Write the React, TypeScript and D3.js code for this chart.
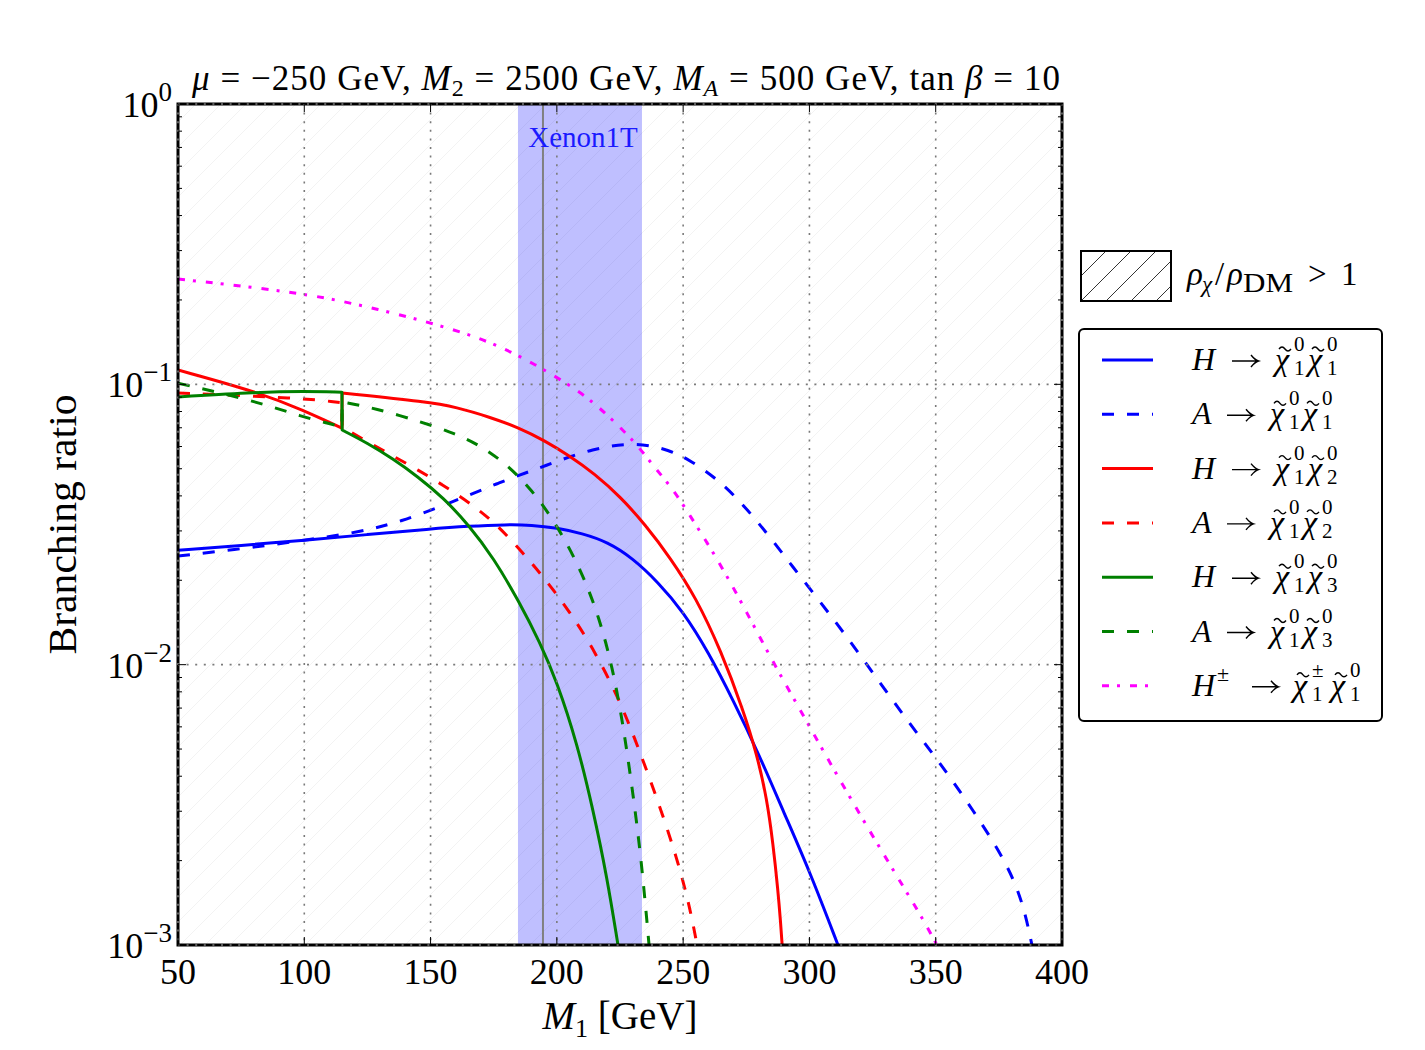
import React from 'react';
import * as d3 from 'd3';

const W = 1425;
const H = 1050;
const PL = 178, PR = 1062, PT = 104, PB = 945;

const xTicks = [50, 100, 150, 200, 250, 300, 350, 400];
const yTickExps = [0, -1, -2, -3];

// Xenon1T excluded band and central line
const xenonBand = [184.6, 233.7];
const xenonLine = 194.5;

// H -> chi1 chi1
const m1H11 = [50, 75, 100, 125, 150, 165, 180, 190, 200, 210, 220, 230, 240, 250, 260, 270, 280, 290, 300, 311.3];
const brH11 = [0.02559, 0.02661, 0.0278, 0.02911, 0.03048, 0.03119, 0.03162, 0.03148, 0.03076, 0.02938, 0.02742, 0.02399, 0.01972, 0.01549, 0.01109, 0.00741, 0.00479, 0.00295, 0.00184, 0.001];

// A -> chi1 chi1
const m1A11 = [50, 78.5, 99.9, 122.1, 137.9, 157.7, 176.7, 196.1, 214.3, 231.7, 244.8, 252.7, 265.8, 279.2, 292.3, 312.1, 325.2, 338.6, 351.7, 364.8, 378.2, 384.6, 388.1];
const brA11 = [0.0244, 0.0261, 0.0278, 0.0297, 0.0323, 0.0377, 0.0445, 0.0515, 0.0592, 0.0622, 0.0582, 0.0537, 0.0445, 0.0328, 0.023, 0.0136, 0.00933, 0.00634, 0.00446, 0.00303, 0.00196, 0.00141, 0.001];

// H -> chi1 chi2
const m1H12 = [50, 81.7, 99.5, 114.9, 115, 149, 160, 173.5, 185, 195, 205, 215, 225, 235, 245, 255, 265, 273.7, 279.2, 283.2, 285.6, 287.5, 288.6, 289.2];
const brH12 = [0.1125, 0.0938, 0.0809, 0.0698, 0.0931, 0.0865, 0.083, 0.0764, 0.07, 0.0631, 0.0556, 0.0479, 0.0398, 0.0316, 0.024, 0.0174, 0.0112, 0.00692, 0.00479, 0.00331, 0.00229, 0.00158, 0.0012, 0.001];

// A -> chi1 chi2
const m1A12 = [50, 99.5, 112.2, 114.9, 115, 125, 135, 145, 155, 165, 175, 185, 195, 205, 215, 225, 232, 240, 247.6, 252.7, 255.5];
const brA12 = [0.0931, 0.0893, 0.0865, 0.086, 0.0705, 0.0624, 0.0556, 0.0495, 0.0437, 0.038, 0.0324, 0.026, 0.0204, 0.0155, 0.0112, 0.00741, 0.00513, 0.00327, 0.00204, 0.00136, 0.001];

// H -> chi1 chi3
const m1H13 = [50, 81.7, 100, 114.9, 115, 125, 135, 145, 155, 165, 175, 185, 193.3, 200, 208, 214.3, 219.9, 224.2];
const brH13 = [0.0902, 0.0938, 0.0944, 0.0938, 0.0687, 0.0617, 0.0543, 0.0468, 0.0394, 0.0316, 0.024, 0.0168, 0.012, 0.00871, 0.00525, 0.00305, 0.00174, 0.001];

// A -> chi1 chi3
const m1A13 = [50, 79.3, 99.5, 112.2, 114.9, 115, 128, 146.6, 159.7, 170, 180, 190, 200, 210, 217, 222, 226, 230, 233.5, 236.5];
const brA13 = [0.1009, 0.0879, 0.0764, 0.0716, 0.0705, 0.0865, 0.0822, 0.0733, 0.0668, 0.0603, 0.0519, 0.0422, 0.0316, 0.0214, 0.0145, 0.00977, 0.00631, 0.00355, 0.002, 0.001];

// H+- -> chi1+- chi1
const m1Hpm = [50, 96.7, 121.3, 147.8, 168.8, 185.8, 205.2, 214.3, 223, 231.7, 238.1, 245.6, 251.9, 264.6, 275.3, 285.6, 297.5, 308.1, 320, 331.9, 343.8, 350.5];
const brHpm = [0.2375, 0.2135, 0.193, 0.168, 0.1475, 0.126, 0.0994, 0.0865, 0.0733, 0.061, 0.0513, 0.0427, 0.035, 0.023, 0.0153, 0.0102, 0.00661, 0.00447, 0.00292, 0.00193, 0.00129, 0.001];

type Series = { m1: number[]; br: number[]; color: string; dash: string | null; p: string; pm: boolean; sup1: string; sub2: string };

const series: Series[] = [
  { m1: m1H11, br: brH11, color: '#0000ff', dash: null, p: 'H', pm: false, sup1: '0', sub2: '1' },
  { m1: m1A11, br: brA11, color: '#0000ff', dash: '12,13', p: 'A', pm: false, sup1: '0', sub2: '1' },
  { m1: m1H12, br: brH12, color: '#ff0000', dash: null, p: 'H', pm: false, sup1: '0', sub2: '2' },
  { m1: m1A12, br: brA12, color: '#ff0000', dash: '12,13', p: 'A', pm: false, sup1: '0', sub2: '2' },
  { m1: m1H13, br: brH13, color: '#008000', dash: null, p: 'H', pm: false, sup1: '0', sub2: '3' },
  { m1: m1A13, br: brA13, color: '#008000', dash: '12,13', p: 'A', pm: false, sup1: '0', sub2: '3' },
  { m1: m1Hpm, br: brHpm, color: '#ff00ff', dash: '7,8,3,10', p: 'H', pm: true, sup1: '±', sub2: '1' },
];

const FONT = "'Liberation Serif', 'Times New Roman', serif";

function Tilde({ x, b }: { x: number; b: number }) {
  return <path d={`M${x + 4},${b - 21} q3,-4 6,0 t6,0`} fill="none" stroke="#000" strokeWidth={1.4} />;
}

function Arrow({ x, b }: { x: number; b: number }) {
  const yy = b - 9;
  return (
    <path d={`M${x},${yy} L${x + 26},${yy} M${x + 19},${yy - 6} Q${x + 23},${yy - 1} ${x + 26.5},${yy} Q${x + 23},${yy + 1} ${x + 19},${yy + 6}`} fill="none" stroke="#000" strokeWidth={1.4} />
  );
}

export default function App() {
  const x = d3.scaleLinear().domain([50, 400]).range([PL, PR]);
  const y = d3.scaleLog().domain([1e-3, 1]).range([PB, PT]);
  const line = d3
    .line<[number, number]>()
    .x((d) => x(d[0]))
    .y((d) => y(d[1]))
    .curve(d3.curveBasis);

  const pathFor = (s: Series) => {
    const pts = s.m1.map((m, j) => [m, s.br[j]] as [number, number]);
    const segs: [number, number][][] = [[]];
    pts.forEach((p, j) => {
      if (j > 0 && p[0] - pts[j - 1][0] < 0.5) segs.push([]);
      segs[segs.length - 1].push(p);
    });
    return segs
      .map((sg, k) => {
        const d = line(sg) || '';
        return k === 0 ? d : 'L' + d.slice(1);
      })
      .join('');
  };

  const minorY: number[] = [];
  for (let k = -3; k < 0; k++) for (let m = 2; m <= 9; m++) minorY.push(m * Math.pow(10, k));

  const gridY = yTickExps.map((e) => Math.pow(10, e));

  const legTop = 360;
  const legStep = 54.3;

  return (
    <svg width={W} height={H} style={{ position: 'absolute', left: 0, top: 0, background: '#fff' }} fontFamily={FONT}>
      <defs>
        <clipPath id="plotclip">
          <rect x={PL} y={PT} width={PR - PL} height={PB - PT} />
        </clipPath>
        <pattern id="hatchFaint" patternUnits="userSpaceOnUse" width={25} height={25}>
          <path d="M0,25 L25,0 M-6.25,6.25 L6.25,-6.25 M18.75,31.25 L31.25,18.75" stroke="#f3f3f3" strokeWidth={1} />
        </pattern>
        <pattern id="hatchLeg" patternUnits="userSpaceOnUse" width={25} height={25} x={1081} y={251}>
          <path d="M0,25 L25,0 M-6.25,6.25 L6.25,-6.25 M18.75,31.25 L31.25,18.75" stroke="#000" strokeWidth={0.8} />
        </pattern>
      </defs>

      <rect x={PL} y={PT} width={PR - PL} height={PB - PT} fill="#fff" />
      <rect x={PL} y={PT} width={PR - PL} height={PB - PT} fill="url(#hatchFaint)" />

      {/* Xenon1T band */}
      <rect x={x(xenonBand[0])} y={PT} width={x(xenonBand[1]) - x(xenonBand[0])} height={PB - PT} fill="rgba(0,0,255,0.25)" />
      <line x1={x(xenonLine)} x2={x(xenonLine)} y1={PT} y2={PB} stroke="#808080" strokeWidth={2} />
      <text x={x((xenonBand[0] + xenonBand[1]) / 2) + 3} y={147} fontSize={29} fill="#1a1aff" textAnchor="middle">Xenon1T</text>

      {/* curves */}
      <g clipPath="url(#plotclip)">
        {series.map((s, i) => (
          <path
            key={i}
            d={pathFor(s)}
            fill="none"
            stroke={s.color}
            strokeWidth={3}
            strokeDasharray={s.dash || undefined}
            strokeLinejoin="round"
          />
        ))}
      </g>

      {/* frame */}
      <rect x={PL} y={PT} width={PR - PL} height={PB - PT} fill="none" stroke="#000" strokeWidth={3} />

      {/* grid */}
      <g stroke="#7a7a7a" strokeWidth={1.6} strokeDasharray="2,6.6">
        {xTicks.map((v) => (
          <line key={'gx' + v} x1={x(v)} x2={x(v)} y1={PT} y2={PB} />
        ))}
        {gridY.map((v) => (
          <line key={'gy' + v} x1={PL} x2={PR} y1={y(v)} y2={y(v)} />
        ))}
      </g>

      {/* ticks */}
      <g stroke="#000" strokeWidth={1}>
        {xTicks.map((v) => (
          <g key={'xt' + v}>
            <line x1={x(v)} x2={x(v)} y1={PB} y2={PB - 8} />
            <line x1={x(v)} x2={x(v)} y1={PT} y2={PT + 8} />
          </g>
        ))}
        {gridY.map((v) => (
          <g key={'yt' + v}>
            <line x1={PL} x2={PL + 8} y1={y(v)} y2={y(v)} />
            <line x1={PR} x2={PR - 8} y1={y(v)} y2={y(v)} />
          </g>
        ))}
        {minorY.map((v) => (
          <g key={'ym' + v}>
            <line x1={PL} x2={PL + 4} y1={y(v)} y2={y(v)} />
            <line x1={PR} x2={PR - 4} y1={y(v)} y2={y(v)} />
          </g>
        ))}
      </g>

      {/* tick labels */}
      {xTicks.map((v) => (
        <text key={'xl' + v} x={x(v)} y={984} fontSize={36} textAnchor="middle">{v}</text>
      ))}
      {yTickExps.map((e) => (
        <text key={'yl' + e} x={172} y={y(Math.pow(10, e)) + 13} fontSize={36} textAnchor="end">
          <tspan>10</tspan>
          <tspan fontSize={27} dy={-16}>{e === 0 ? '0' : '−' + Math.abs(e)}</tspan>
        </text>
      ))}

      {/* axis labels */}
      <text x={620} y={1029} fontSize={39} textAnchor="middle">
        <tspan fontStyle="italic">M</tspan>
        <tspan fontSize={26} dy={8}>1</tspan>
        <tspan dy={-8}> [GeV]</tspan>
      </text>
      <text transform={`translate(76,${(PT + PB) / 2}) rotate(-90)`} fontSize={40} textAnchor="middle" textLength={260} lengthAdjust="spacingAndGlyphs">Branching ratio</text>

      {/* title */}
      <text x={626} y={90} fontSize={35} textAnchor="middle" textLength={868} lengthAdjust="spacing">
        <tspan fontStyle="italic">μ</tspan>
        <tspan> = −250 GeV, </tspan>
        <tspan fontStyle="italic">M</tspan>
        <tspan fontSize={24} dy={6}>2</tspan>
        <tspan dy={-6}> = 2500 GeV, </tspan>
        <tspan fontStyle="italic">M</tspan>
        <tspan fontSize={24} dy={6} fontStyle="italic">A</tspan>
        <tspan dy={-6}> = 500 GeV, tan </tspan>
        <tspan fontStyle="italic">β</tspan>
        <tspan> = 10</tspan>
      </text>

      {/* hatch legend */}
      <rect x={1081} y={251} width={90} height={50} fill="#fff" />
      <rect x={1081} y={251} width={90} height={50} fill="url(#hatchLeg)" stroke="#000" strokeWidth={2} />
      <text fontSize={33}>
        <tspan x={1187} y={285} fontStyle="italic">ρ</tspan>
        <tspan x={1202} y={292} fontSize={23} fontStyle="italic">χ</tspan>
        <tspan x={1215} y={285}>/</tspan>
        <tspan x={1227} y={285} fontStyle="italic">ρ</tspan>
        <tspan x={1243} y={292} fontSize={27} textLength={50} lengthAdjust="spacingAndGlyphs">DM</tspan>
        <tspan x={1308} y={285}>{'>'}</tspan>
        <tspan x={1341} y={285}>1</tspan>
      </text>

      {/* line legend */}
      <rect x={1079} y={329} width={303} height={392} rx={5} ry={5} fill="#fff" stroke="#000" strokeWidth={2} />
      {series.map((s, i) => {
        const cy = legTop + i * legStep;
        const b = cy + 10;
        const x0 = 1192;
        const ax = x0 + (s.pm ? 60 : s.p === 'H' ? 40 : 35);
        const c1 = x0 + (s.pm ? 101 : s.p === 'H' ? 83 : 78);
        const c2 = c1 + (s.pm ? 38 : 33);
        return (
          <g key={'lg' + i}>
            <line x1={1102} x2={1153} y1={cy} y2={cy} stroke={s.color} strokeWidth={3} strokeDasharray={s.dash || undefined} />
            <text fontSize={32}>
              <tspan x={x0} y={b} fontStyle="italic">{s.p}</tspan>
              {s.pm ? <tspan x={x0 + 25} y={b - 15} fontSize={22}>±</tspan> : null}
              <tspan x={c1} y={b} fontStyle="italic">χ</tspan>
              <tspan x={c1 + 19} y={b - 19} fontSize={21}>{s.sup1}</tspan>
              <tspan x={c1 + 19} y={b + 5} fontSize={21}>1</tspan>
              <tspan x={c2} y={b} fontStyle="italic">χ</tspan>
              <tspan x={c2 + 19} y={b - 19} fontSize={21}>0</tspan>
              <tspan x={c2 + 19} y={b + 5} fontSize={21}>{s.sub2}</tspan>
            </text>
            <Tilde x={c1} b={b} />
            <Tilde x={c2} b={b} />
            <Arrow x={ax} b={b} />
          </g>
        );
      })}
    </svg>
  );
}
